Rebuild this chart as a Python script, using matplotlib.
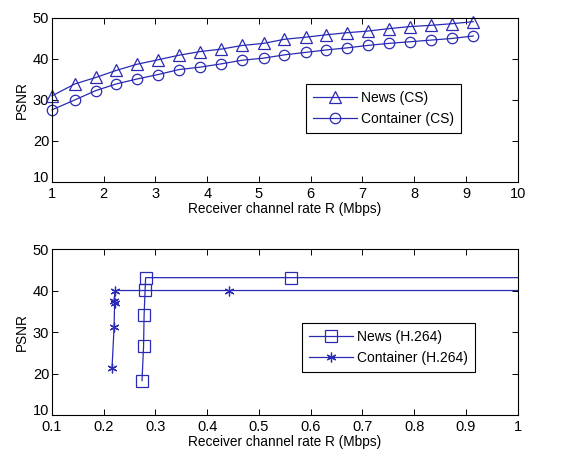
import matplotlib
matplotlib.use('Agg')
import matplotlib.pyplot as plt
import matplotlib.transforms as mtransforms

plt.rcParams['font.family'] = ['Liberation Sans', 'DejaVu Sans']

BLUE = '#2a2ab4'

# top panel: compressive sensing
cs_rate = [1.0, 1.44, 1.85, 2.24, 2.64, 3.05, 3.45, 3.86, 4.27, 4.68, 5.09,
           5.49, 5.9, 6.3, 6.7, 7.1, 7.51, 7.92, 8.32, 8.73, 9.14]
news_cs = [31.0, 33.9, 35.5, 37.2, 38.7, 39.8, 40.9, 41.8, 42.4, 43.3, 43.8,
           44.8, 45.3, 45.9, 46.4, 46.8, 47.4, 47.9, 48.2, 48.6, 49.1]
container_cs = [27.6, 30.0, 32.3, 33.9, 35.1, 36.2, 37.4, 38.0, 38.8, 39.7, 40.2,
                41.0, 41.6, 42.2, 42.7, 43.3, 43.8, 44.2, 44.6, 45.0, 45.6]

# bottom panel: H.264
news_h264_rate = [0.274, 0.277, 0.278, 0.28, 0.281, 0.561, 1.5]
news_h264 = [18.3, 26.6, 34.0, 40.2, 43.1, 43.1, 43.1]
cont_h264_rate = [0.216, 0.22, 0.221, 0.22, 0.222, 0.443, 1.5]
cont_h264 = [21.3, 31.1, 37.0, 37.5, 40.0, 40.0, 40.0]

ASTERISK = (6, 2, 0)

fig = plt.figure(figsize=(5.68, 4.57), dpi=100)
ax1 = fig.add_axes([0.0915, 0.6018, 0.820, 0.3589])
ax2 = fig.add_axes([0.0915, 0.0919, 0.820, 0.3632])


def style(ax):
    ax.tick_params(direction='in', top=True, right=True, labelsize=10.5,
                   length=4, width=0.7, pad=2)
    ax.tick_params(axis='x', pad=3.5)
    for s in ax.spines.values():
        s.set_linewidth(0.8)
    ax.set_ylabel('PSNR', fontsize=9.8, labelpad=3)
    ax.set_xlabel('Receiver channel rate R (Mbps)', fontsize=9.8, labelpad=1)
    ax.set_ylim(10, 50)
    ax.set_yticks([10, 20, 30, 40, 50])
    # lowest y label sits a little high, as in the original, clear of the x labels
    lab = ax.get_yticklabels()[0]
    shift = mtransforms.ScaledTranslation(0, 4 / 72, fig.dpi_scale_trans)
    lab.set_transform(lab.get_transform() + shift)


def legend(ax, anchor):
    leg = ax.legend(loc='upper left', bbox_to_anchor=anchor, fontsize=10,
                    frameon=True, fancybox=False, edgecolor='black',
                    framealpha=1, numpoints=1, handlelength=3.2,
                    borderpad=0.5, labelspacing=0.5, handletextpad=0.3,
                    borderaxespad=0)
    leg.get_frame().set_linewidth(0.8)


ax1.plot(cs_rate, news_cs, '-^', color=BLUE, lw=0.9, ms=8, mfc='none',
         mew=0.9, label='News (CS)', clip_on=False)
ax1.plot(cs_rate, container_cs, '-o', color=BLUE, lw=0.9, ms=7.5, mfc='none',
         mew=0.9, label='Container (CS)', clip_on=False)
ax1.set_xlim(1, 10)
ax1.set_xticks(range(1, 11))
style(ax1)
legend(ax1, (0.545, 0.598))

ax2.plot(news_h264_rate, news_h264, '-s', color=BLUE, lw=0.9, ms=8.5, mfc='none',
         mew=0.9, label='News (H.264)')
ax2.plot(cont_h264_rate, cont_h264, '-', marker=ASTERISK, color=BLUE, lw=0.9,
         ms=7, mew=0.9, label='Container (H.264)')
ax2.set_xlim(0.1, 1)
ax2.set_xticks([0.1, 0.2, 0.3, 0.4, 0.5, 0.6, 0.7, 0.8, 0.9, 1.0])
ax2.set_xticklabels(['0.1', '0.2', '0.3', '0.4', '0.5', '0.6', '0.7', '0.8', '0.9', '1'])
style(ax2)
legend(ax2, (0.536, 0.554))

fig.savefig('out.png', dpi=100, facecolor='white')
